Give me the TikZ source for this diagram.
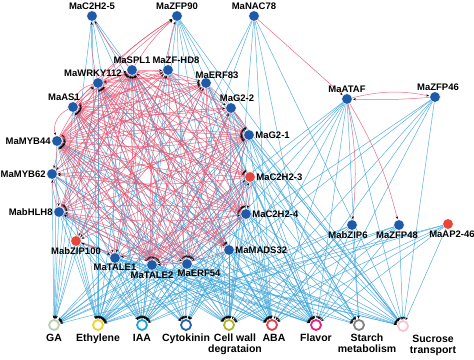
\documentclass[tikz,border=0pt]{standalone}
\usepackage{fontspec}
\setmainfont{Liberation Sans}
\usetikzlibrary{arrows.meta,backgrounds}

\definecolor{tfblue}{HTML}{1E5AA8}
\definecolor{tfred}{HTML}{E8453C}
\definecolor{edgeblue}{HTML}{3BA3D9}
\definecolor{edgered}{HTML}{E8506E}
\definecolor{gacol}{HTML}{B9CFB4}
\definecolor{ethcol}{HTML}{F0D22A}
\definecolor{iaacol}{HTML}{1FA3D6}
\definecolor{cytcol}{HTML}{2563B0}
\definecolor{cwdcol}{HTML}{B4B22A}
\definecolor{abacol}{HTML}{E0414F}
\definecolor{flavcol}{HTML}{E2237E}
\definecolor{starchcol}{HTML}{808080}
\definecolor{succol}{HTML}{F3C6CF}

\begin{document}
\begin{tikzpicture}[x=1pt,y=-1pt,
		tf/.style={circle,fill=tfblue,draw=white,line width=0.3pt,minimum size=10.5pt,inner sep=0pt},
		tfr/.style={tf,fill=tfred},
		ring/.style={circle,draw=#1,line width=1.8pt,fill=white,minimum size=10pt,inner sep=0pt},
		tflbl/.style={font=\fontsize{9.5}{10}\selectfont\bfseries,inner sep=0.8pt},
		catlbl/.style={font=\fontsize{10.5}{11}\selectfont\bfseries,align=center,inner sep=0pt,yshift=-3pt},
		blueedge/.style={draw=edgeblue,line width=0.5pt,opacity=0.85,-{Stealth[black,length=3pt,width=2.4pt]},shorten >=0.5pt},
		rededge/.style={draw=edgered,line width=0.5pt,opacity=0.85,-{Stealth[black,length=3pt,width=2.4pt]},shorten >=0.5pt}]

		\useasboundingbox (0,0) rectangle (474,359);

		% transcription factors
		\node[tf,label={[tflbl]above:MaC2H2-5}] (c25) at (92,16) {};
		\node[tf,label={[tflbl]above:MaZFP90}] (zfp90) at (177,16) {};
		\node[tf,label={[tflbl]above:MaNAC78}] (nac78) at (254,16) {};
		\node[tf,label={[tflbl]above:MaSPL1}] (spl1) at (132,70) {};
		\node[tf,label={[tflbl,xshift=8pt]above:MaZF-HD8}] (zfhd8) at (168,70) {};
		\node[tf,label={[tflbl,xshift=-5pt]above:MaWRKY112}] (wrky) at (98,83) {};
		\node[tf,label={[tflbl,xshift=11pt,yshift=-2pt]above:MaERF83}] (erf83) at (206,83) {};
		\node[tf,label={[tflbl,xshift=-9pt]above:MaAS1}] (as1) at (73,107) {};
		\node[tf,label={[tflbl,xshift=6pt]above:MaG2-2}] (g22) at (231,108) {};
		\node[tf,label={[tflbl]above:MaATAF}] (ataf) at (347,99) {};
		\node[tf,label={[tflbl,xshift=3pt]above:MaZFP46}] (zfp46) at (435,97) {};
		\node[tf,label={[tflbl]left:MaMYB44}] (myb44) at (57,141) {};
		\node[tf,label={[tflbl]left:MaMYB62}] (myb62) at (52,174) {};
		\node[tf,label={[tflbl]left:MabHLH8}] (bhlh) at (59,212) {};
		\node[tf,label={[tflbl]right:MaG2-1}] (g21) at (249,135) {};
		\node[tfr,label={[tflbl]right:MaC2H2-3}] (c23) at (250,177) {};
		\node[tf,label={[tflbl]right:MaC2H2-4}] (c24) at (246,214) {};
		\node[tf,label={[tflbl,xshift=-4pt]below:MabZIP6}] (zip6) at (352,225) {};
		\node[tf,label={[tflbl,xshift=-2pt]below:MaZFP48}] (zfp48) at (399,225) {};
		\node[tfr,label={[tflbl,xshift=4pt]below:MaAP2-46}] (ap246) at (448,224) {};
		\node[tfr,label={[tflbl]below:MabZIP100}] (zip100) at (76,241) {};
		\node[tf,label={[tflbl]below:MaTALE1}] (tale1) at (115,258) {};
		\node[tf,label={[tflbl]below:MaTALE2}] (tale2) at (152,265) {};
		\node[tf,label={[tflbl,xshift=12pt]below:MaERF54}] (erf54) at (187,264) {};
		\node[tf,label={[tflbl]right:MaMADS32}] (mads32) at (229,250) {};

		% functional categories
		\node[ring=gacol,label={[catlbl]below:GA}] (ga) at (54,325) {};
		\node[ring=ethcol,label={[catlbl]below:Ethylene}] (eth) at (98,325) {};
		\node[ring=iaacol,label={[catlbl]below:IAA}] (iaa) at (142,325) {};
		\node[ring=cytcol,label={[catlbl]below:Cytokinin}] (cyt) at (186,325) {};
		\node[ring=cwdcol,label={[catlbl,xshift=6pt]below:Cell wall\\degrataion}] (cwd) at (229,325) {};
		\node[ring=abacol,label={[catlbl,xshift=2pt]below:ABA}] (aba) at (272,325) {};
		\node[ring=flavcol,label={[catlbl]below:Flavor}] (flav) at (316,325) {};
		\node[ring=starchcol,label={[catlbl,xshift=8pt]below:Starch\\metabolism}] (starch) at (359,325) {};
		\node[ring=succol,label={[catlbl,xshift=30pt]below:Sucrose\\transport}] (suc) at (403,326) {};

		\begin{scope}[on background layer]
			% TF -> category
			\foreach \s/\ts in {
				c25/{ga,eth,iaa,cwd,aba,flav},
				zfp90/{eth,iaa,cyt,cwd,aba,flav,starch,suc},
				nac78/{eth,iaa,cwd,aba,flav,suc},
				spl1/{ga,eth,iaa,cyt,cwd,aba,flav},
				zfhd8/{eth,iaa,cwd,aba,flav,suc},
				wrky/{ga,eth,iaa,cyt,aba,flav},
				erf83/{eth,cwd,aba,flav,starch,suc},
				as1/{ga,eth,iaa,cyt,cwd,aba},
				g22/{eth,iaa,cwd,aba,flav,suc},
				ataf/{ga,eth,iaa,cyt,cwd,aba,flav,starch,suc},
				zfp46/{eth,iaa,cwd,aba,flav,suc},
				myb44/{ga,eth,iaa,cyt,cwd,aba,flav,starch,suc},
				g21/{ga,eth,iaa,cyt,cwd,aba,flav,starch,suc},
				myb62/{ga,eth,iaa,cwd,aba,flav},
				c23/{ga,eth,iaa,cyt,cwd,aba,flav,starch,suc},
				bhlh/{ga,eth,iaa,cyt,cwd,aba,flav,suc},
				c24/{ga,eth,iaa,cyt,cwd,aba,flav,starch,suc},
				zip6/{eth,iaa,cwd,aba,flav,starch},
				zfp48/{eth,iaa,cwd,aba,flav,suc},
				ap246/{ga,eth,cwd,aba,flav,suc},
				zip100/{ga,eth,iaa,cyt,aba,flav},
				tale1/{ga,eth,iaa,cyt,cwd,aba,flav,starch,suc},
				tale2/{ga,eth,iaa,cyt,cwd,aba,flav,suc},
				erf54/{ga,eth,iaa,cyt,cwd,aba,flav,starch,suc},
				mads32/{ga,eth,iaa,cyt,cwd,aba,flav,starch,suc}}
				\foreach \t in \ts
					\draw[blueedge] (\s) -- (\t);

			% TF -> TF
			\foreach \s/\ts in {
				spl1/{c25,zfp90,wrky,as1,myb44,myb62,bhlh,zip100,tale1,tale2,erf54,g21,c23,c24,erf83,g22,mads32},
				zfhd8/{zfp90,myb44,as1,tale2,erf54,g21,c24,bhlh,wrky},
				wrky/{c25,zfp90,spl1,zfhd8,erf83,g21,c24,tale2,erf54,myb44,bhlh,mads32,c23},
				erf83/{myb44,as1,tale2,erf54,bhlh,zip100,c24,g21},
				as1/{zfp90,wrky,spl1,erf83,g21,c23,c24,tale2,erf54,mads32},
				g22/{myb44,as1,tale2,bhlh,erf54,g21},
				myb44/{zfp90,spl1,wrky,zfhd8,erf83,g22,g21,c23,c24,tale1,tale2,erf54,mads32,myb62},
				g21/{myb44,myb62,bhlh,tale2,erf54,spl1,as1,zip100},
				myb62/{spl1,g21,c24,tale2,bhlh,erf83},
				c23/{myb44,myb62,tale2,erf54,wrky,as1,c24},
				bhlh/{spl1,g21,c24,erf54,tale2,zfhd8,myb62},
				c24/{myb44,bhlh,tale1,tale2,erf54,spl1,wrky,c23,as1},
				zip100/{spl1,tale1,g21,erf83},
				tale1/{spl1,zfhd8,c24,g21,myb44},
				tale2/{spl1,wrky,zfhd8,erf83,myb44,g21,c23,as1},
				erf54/{spl1,wrky,as1,myb44,bhlh,zip100,g22},
				mads32/{spl1,myb44,tale2,wrky,as1},
				ataf/{zip6,zfp48}}
				\foreach \t in \ts
					\draw[rededge] (\s) to[bend left=8] (\t);
			\draw[rededge] (as1) to[bend right=40] (myb44);
			\draw[rededge] (wrky) to[bend right=30] (as1);
			\draw[rededge] (nac78) -- (ataf);
			\draw[rededge] (ataf) to[bend left=12] (zfp46);
			\draw[rededge] (zfp46) to[bend left=3] (ataf);
		\end{scope}
	\end{tikzpicture}
\end{document}
